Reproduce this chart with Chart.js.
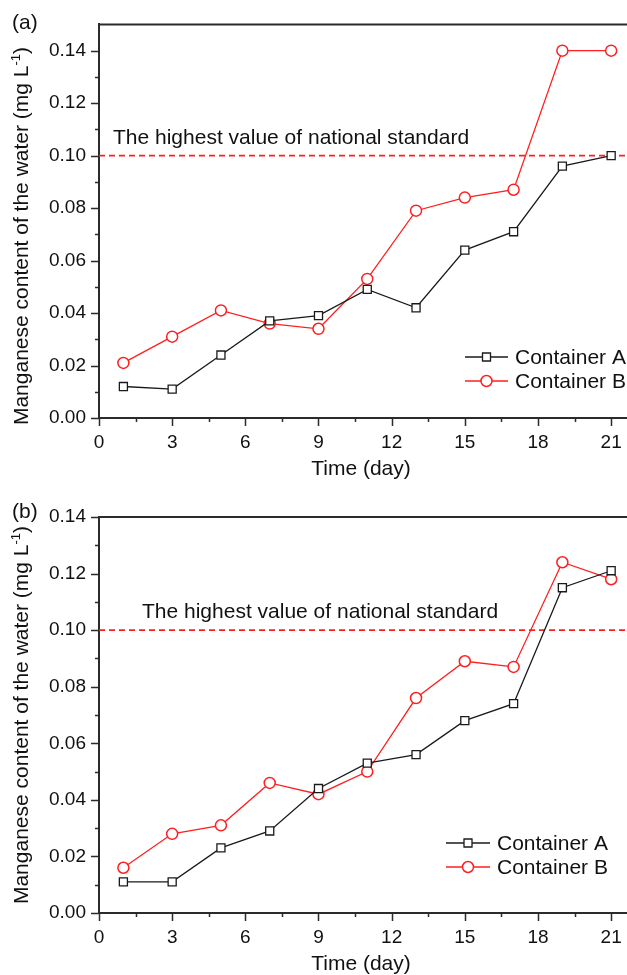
<!DOCTYPE html>
<html lang="en">
<head>
<meta charset="UTF-8">
<title>Manganese content of the water</title>
<script src="https://cdn.jsdelivr.net/npm/chart.js"></script>
<style>
  html, body { margin: 0; padding: 0; background: #fff; overflow: hidden; }
  .panel { position: absolute; left: 0; width: 627px; }
  #panelA { top: 0; height: 488px; }
  #panelB { top: 488px; height: 487px; }
</style>
</head>
<body>
<div class="panel" id="panelA"><canvas id="chartA" width="627" height="488"></canvas></div>
<div class="panel" id="panelB"><canvas id="chartB" width="627" height="487"></canvas></div>
<script>
// sampling days
const days = [1, 3, 5, 7, 9, 11, 13, 15, 17, 19, 21];

// panel (a)
const aContainerA = [0.012, 0.011, 0.024, 0.037, 0.039, 0.049, 0.042, 0.064, 0.071, 0.096, 0.100];
const aContainerB = [0.021, 0.031, 0.041, 0.036, 0.034, 0.053, 0.079, 0.084, 0.087, 0.140, 0.140];

// panel (b)
const bContainerA = [0.011, 0.011, 0.023, 0.029, 0.044, 0.053, 0.056, 0.068, 0.074, 0.115, 0.121];
const bContainerB = [0.016, 0.028, 0.031, 0.046, 0.042, 0.050, 0.076, 0.089, 0.087, 0.124, 0.118];

const standardLimit = 0.10;
const xTicks = [0, 3, 6, 9, 12, 15, 18, 21];
const yTicks = [0, 0.02, 0.04, 0.06, 0.08, 0.10, 0.12, 0.14];
const seriesNames = ['Container A', 'Container B'];

const FONT = "'Liberation Sans', Arial, Helvetica, sans-serif";
const AXIS = '#2b2b2b';
const BLACK = '#1a1a1a';
const RED = '#ff1f1f';
const X_MAX = 21.65;

// axes frame, minor ticks, titles, note and legend
const decor = {
    id: 'decor',
    afterDraw(chart, args, opts) {
        const ctx = chart.ctx;
        const area = chart.chartArea;
        const xs = chart.scales.x, ys = chart.scales.y;
        ctx.save();

        // top frame line
        ctx.strokeStyle = AXIS;
        ctx.lineWidth = 2;
        ctx.beginPath();
        ctx.moveTo(area.left - 1, area.top);
        ctx.lineTo(area.right, area.top);
        ctx.stroke();

        // tick marks (outward), minors halfway between majors
        ctx.lineWidth = 1.5;
        ctx.beginPath();
        xTicks.forEach((v, i) => {
            const px = Math.round(xs.getPixelForValue(v)) + 0.5;
            ctx.moveTo(px, area.bottom);
            ctx.lineTo(px, area.bottom + 8);
            if (i < xTicks.length - 1) {
                const m = Math.round(xs.getPixelForValue((v + xTicks[i + 1]) / 2)) + 0.5;
                ctx.moveTo(m, area.bottom);
                ctx.lineTo(m, area.bottom + 4);
            }
        });
        yTicks.forEach((v, i) => {
            const py = Math.round(ys.getPixelForValue(v)) + 0.5;
            ctx.moveTo(area.left, py);
            ctx.lineTo(area.left - 8, py);
            if (i < yTicks.length - 1) {
                const m = Math.round(ys.getPixelForValue((v + yTicks[i + 1]) / 2)) + 0.5;
                ctx.moveTo(area.left, m);
                ctx.lineTo(area.left - 4, m);
            }
        });
        ctx.stroke();

        ctx.fillStyle = '#111';
        ctx.textAlign = 'left';
        ctx.textBaseline = 'alphabetic';

        // panel label
        ctx.font = '21px ' + FONT;
        ctx.fillText(opts.label, 12, opts.labelY);

        // x title
        ctx.textAlign = 'center';
        ctx.fillText('Time (day)', 361, area.bottom + 57);

        // y title with superscript
        ctx.save();
        ctx.translate(28, opts.yTitleY);
        ctx.rotate(-Math.PI / 2);
        ctx.textAlign = 'left';
        const main = 'Manganese content of the water (mg L', sup = '-1', end = ')';
        ctx.font = '21px ' + FONT;
        const w1 = ctx.measureText(main).width, w3 = ctx.measureText(end).width;
        ctx.font = '13px ' + FONT;
        const w2 = ctx.measureText(sup).width;
        let tx = -(w1 + w2 + w3) / 2;
        ctx.font = '21px ' + FONT;
        ctx.fillText(main, tx, 0);
        tx += w1;
        ctx.font = '13px ' + FONT;
        ctx.fillText(sup, tx, -8);
        tx += w2;
        ctx.font = '21px ' + FONT;
        ctx.fillText(end, tx, 0);
        ctx.restore();

        // national standard note
        ctx.textAlign = 'left';
        ctx.fillText('The highest value of national standard', opts.noteX, opts.noteY);

        // legend
        const lg = opts.legend;
        chart.data.datasets.slice(0, 2).forEach((ds, i) => {
            const y = lg.y + i * 24;
            ctx.strokeStyle = ds.borderColor;
            ctx.lineWidth = 1.3;
            ctx.beginPath();
            ctx.moveTo(lg.x1, y);
            ctx.lineTo(lg.x2, y);
            ctx.stroke();
            const cx = (lg.x1 + lg.x2) / 2;
            ctx.fillStyle = '#fff';
            ctx.lineWidth = ds.pointBorderWidth;
            ctx.beginPath();
            if (ds.pointStyle === 'rect') {
                ctx.rect(cx - 4, y - 4, 8, 8);
            } else {
                ctx.arc(cx, y, 5.5, 0, Math.PI * 2);
            }
            ctx.fill();
            ctx.stroke();
            ctx.fillStyle = '#111';
            ctx.font = '21px ' + FONT;
            ctx.textBaseline = 'middle';
            ctx.fillText(ds.label, lg.textX, y + 1);
        });
        ctx.restore();
    }
};

function points(values) {
    return days.map((d, i) => ({ x: d, y: values[i] }));
}

function makeChart(id, seriesA, seriesB, cfg) {
    return new Chart(document.getElementById(id), {
        type: 'line',
        data: {
            datasets: [
                {
                    label: seriesNames[0],
                    data: points(seriesA),
                    borderColor: BLACK,
                    borderWidth: 1.3,
                    pointStyle: 'rect',
                    pointRadius: 5.7,
                    pointBorderWidth: 1.3,
                    pointBackgroundColor: '#fff',
                    pointBorderColor: BLACK
                },
                {
                    label: seriesNames[1],
                    data: points(seriesB),
                    borderColor: RED,
                    borderWidth: 1.3,
                    pointStyle: 'circle',
                    pointRadius: 5.5,
                    pointBorderWidth: 1.5,
                    pointBackgroundColor: '#fff',
                    pointBorderColor: RED
                },
                {
                    label: 'standard',
                    data: [{ x: 0, y: standardLimit }, { x: X_MAX, y: standardLimit }],
                    borderColor: RED,
                    borderWidth: 1.7,
                    borderDash: [6, 4],
                    pointRadius: 0
                }
            ]
        },
        options: {
            responsive: false,
            animation: false,
            devicePixelRatio: 1,
            layout: { autoPadding: false, padding: { top: cfg.padTop, left: 0, right: 0, bottom: 0 } },
            plugins: {
                legend: { display: false },
                tooltip: { enabled: false },
                decor: cfg.decor
            },
            scales: {
                x: {
                    type: 'linear',
                    min: 0,
                    max: X_MAX,
                    afterBuildTicks: s => { s.ticks = xTicks.map(v => ({ value: v })); },
                    afterFit: s => { s.height = cfg.xAxisHeight; s.paddingRight = 0; s.paddingLeft = 0; },
                    grid: { display: false, drawTicks: false },
                    border: { display: true, color: AXIS, width: 2 },
                    ticks: {
                        padding: 13,
                        color: '#111',
                        font: { family: FONT, size: 19 },
                        maxRotation: 0,
                        autoSkip: false,
                        callback: v => String(v)
                    }
                },
                y: {
                    type: 'linear',
                    min: 0,
                    max: cfg.yMax,
                    afterBuildTicks: s => { s.ticks = yTicks.map(v => ({ value: v })); },
                    afterFit: s => { s.width = 99; },
                    grid: { display: false, drawTicks: false },
                    border: { display: true, color: AXIS, width: 2 },
                    ticks: {
                        padding: 13,
                        color: '#111',
                        font: { family: FONT, size: 19 },
                        autoSkip: false,
                        callback: v => Number(v).toFixed(2)
                    }
                }
            }
        },
        plugins: [decor]
    });
}

makeChart('chartA', aContainerA, aContainerB, {
    yMax: 0.15,
    padTop: 22,
    xAxisHeight: 70,
    decor: {
        label: '(a)', labelY: 29, yTitleY: 236,
        noteX: 113, noteY: 144,
        legend: { x1: 465, x2: 508, textX: 515, y: 357 }
    }
});

makeChart('chartB', bContainerA, bContainerB, {
    yMax: 0.14,
    padTop: 29,
    xAxisHeight: 62,
    decor: {
        label: '(b)', labelY: 30, yTitleY: 227,
        noteX: 142, noteY: 130,
        legend: { x1: 446, x2: 490, textX: 497, y: 355 }
    }
});
</script>
</body>
</html>
